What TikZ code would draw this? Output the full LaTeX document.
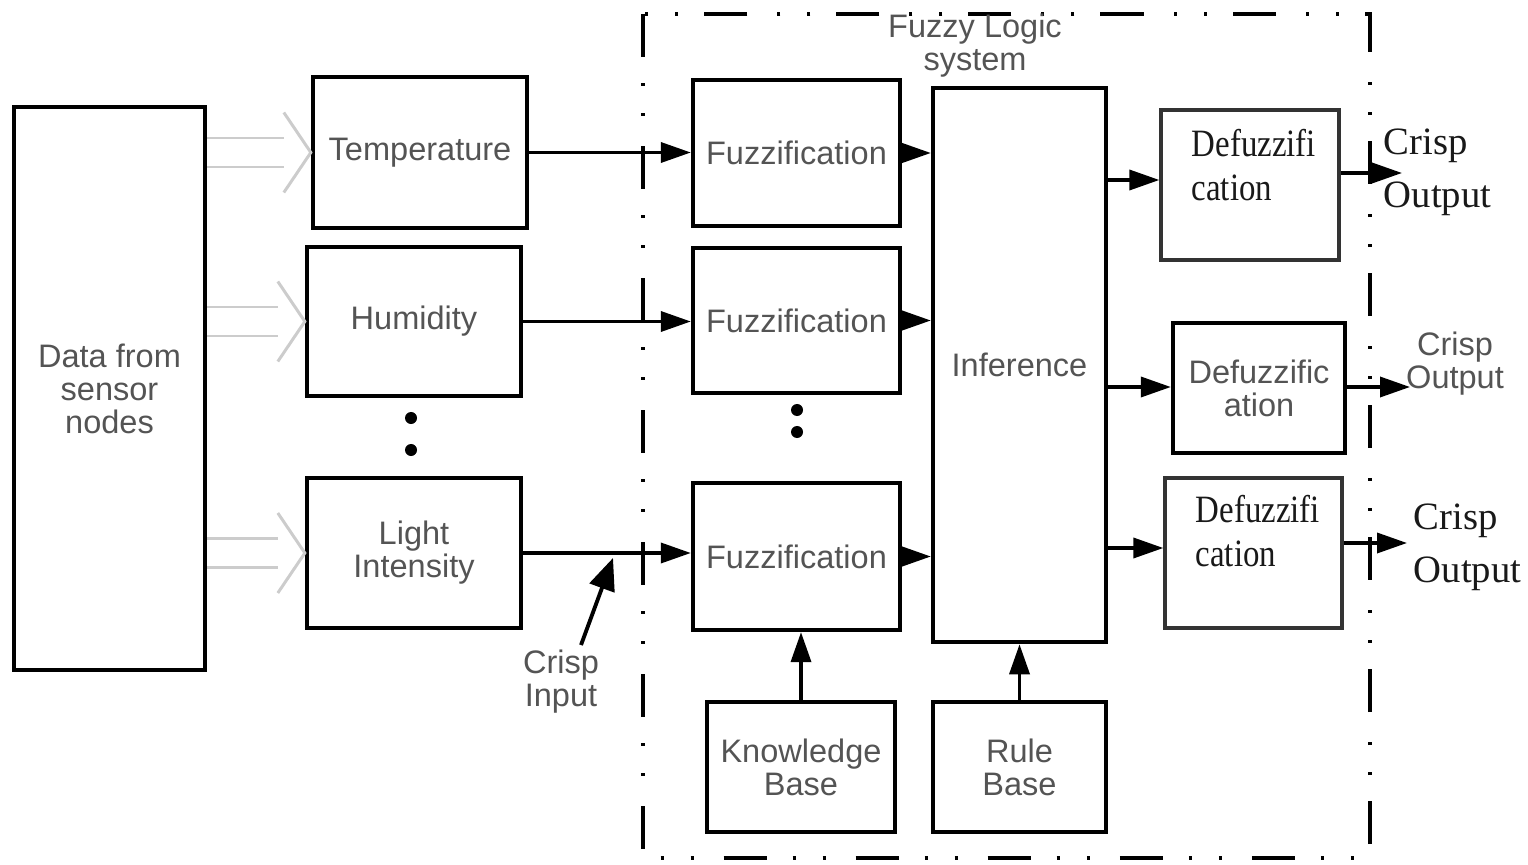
\documentclass[tikz,border=0pt]{standalone}
\usepackage{fontspec}
\setmainfont{Liberation Sans}
\newfontfamily\tnr[FakeStretch=0.85]{Liberation Serif}
\newfontfamily\tnrn{Liberation Serif}
\usetikzlibrary{arrows.meta,calc}
\definecolor{txt}{gray}{0.33}
\definecolor{holc}{gray}{0.8}
\newcommand\sfs{\fontsize{9.25}{9.4}\selectfont}
\tikzset{
  box/.style={draw=black, line width=1.2pt, inner sep=0pt, align=center, font=\sfs, text=txt},
  tbox/.style={draw=black!80, line width=0.9pt, inner sep=0pt},
  lbl/.style={inner sep=0pt, align=center, font=\sfs, text=txt},
  serif/.style={inner sep=0pt, align=left, font={\tnr\fontsize{11}{12.5}\selectfont}, text=black!90},
  crisp/.style={inner sep=0pt, align=left, font={\tnrn\fontsize{11}{15}\selectfont}, text=black!90},
  arr/.style={line width=1pt, -{Triangle[length=0.3cm,width=0.2cm]}},
  holl/.style={draw=holc, line width=0.85pt},
  frame/.style={line width=1.1pt, dash pattern=on 0.43cm off 0.26cm on 0.03cm off 0.27cm on 0.03cm off 0.3cm},
  dotn/.style={circle, fill=black, inner sep=0pt, minimum size=0.12cm}
}
\newcommand\hollowarrow[1]{%
  \coordinate (hs) at (data.east |- #1.west);
  \coordinate (ht) at (#1.west);
  \draw[holl] ($(hs)+(0,-14.5)$) -- ($(ht)+(-27,-14.5)$);
  \draw[holl] ($(hs)+(0,14.5)$) -- ($(ht)+(-27,14.5)$);
  \draw[holl] ($(ht)+(-27,-40)$) -- (ht) -- ($(ht)+(-27,40)$);}
\begin{document}
\begin{tikzpicture}[x=0.01cm,y=-0.01cm]
\useasboundingbox (0,0) rectangle (1528,864);
% frame
\draw[frame] (643,14) rectangle (1370,858);
\node[lbl] (title) at (975,46) {Fuzzy Logic\\system};
% boxes
\node[box, minimum width=1.91cm, minimum height=5.63cm] (data) at (109.5,388.5) {Data from\\sensor\\nodes};
\node[box, minimum width=2.14cm, minimum height=1.51cm] (temp) at (420,152.5) {Temperature};
\node[box, minimum width=2.14cm, minimum height=1.49cm] (hum) at (414,321.5) {Humidity};
\node[box, minimum width=2.14cm, minimum height=1.50cm] (light) at (414,553) {Light\\Intensity};
\node[box, minimum width=2.07cm, minimum height=1.46cm] (fz1) at (796.5,153) {Fuzzification};
\node[box, minimum width=2.07cm, minimum height=1.45cm] (fz2) at (796.5,320.5) {Fuzzification};
\node[box, minimum width=2.07cm, minimum height=1.47cm] (fz3) at (796.5,556.5) {Fuzzification};
\node[box, minimum width=1.73cm, minimum height=5.54cm] (inf) at (1019.5,365) {Inference};
\node[tbox, minimum width=1.78cm, minimum height=1.50cm] (df1) at (1250,185) {};
\node[box, minimum width=1.72cm, minimum height=1.30cm] (df2) at (1259,388) {Defuzzific\\ation};
\node[tbox, minimum width=1.77cm, minimum height=1.50cm] (df3) at (1253.5,553) {};
\node[box, minimum width=1.88cm, minimum height=1.30cm] (kb) at (801,767) {Knowledge\\Base};
\node[box, minimum width=1.73cm, minimum height=1.30cm] (rb) at (1019.5,767) {Rule\\Base};
% serif texts
\node[serif, anchor=west] (df1t) at (1191,165) {Defuzzifi\\cation};
\node[serif, anchor=west] (df3t) at (1195,531) {Defuzzifi\\cation};
\node[crisp, anchor=west] (co1) at (1383,172) {Crisp\\Output};
\node[lbl] (co2) at (1455,364) {Crisp\\Output};
\node[crisp, anchor=west] (co3) at (1413,547) {Crisp\\Output};
\node[lbl] (ci) at (561,682) {Crisp\\Input};
% dots
\node[dotn] (d1) at (411,418) {};
\node[dotn] (d2) at (411,450) {};
\node[dotn] (d3) at (797,410) {};
\node[dotn] (d4) at (797,432) {};
% hollow arrows
\hollowarrow{temp}
\hollowarrow{hum}
\hollowarrow{light}
% connectors
\draw[arr] (temp.east) -- (temp.east -| fz1.west);
\draw[arr] (hum.east) -- (hum.east -| fz2.west);
\draw[arr] (light.east) -- (light.east -| fz3.west);
\draw[arr] (fz1.east) -- (fz1.east -| inf.west);
\draw[arr] (fz2.east) -- (fz2.east -| inf.west);
\draw[arr] (fz3.east) -- (fz3.east -| inf.west);
\draw[arr] (inf.east |- 0,180) -- (df1.west |- 0,180);
\draw[arr] (inf.east |- 0,387) -- (df2.west |- 0,387);
\draw[arr] (inf.east |- 0,548) -- (df3.west |- 0,548);
\coordinate (o1) at (1402,173);
\coordinate (o2) at (1410,387);
\coordinate (o3) at (1407,543);
\draw[arr] (df1.east |- o1) -- (o1);
\draw[arr] (df2.east |- o2) -- (o2);
\draw[arr] (df3.east |- o3) -- (o3);
\draw[arr] (kb.north) -- (kb.north |- fz3.south);
\draw[arr] (rb.north) -- (rb.north |- inf.south);
\coordinate (cis) at (581,645);
\coordinate (cit) at (613,558);
\draw[line width=1.1pt, -{Triangle[length=0.32cm,width=0.26cm]}] (cis) -- (cit);
\end{tikzpicture}
\end{document}
